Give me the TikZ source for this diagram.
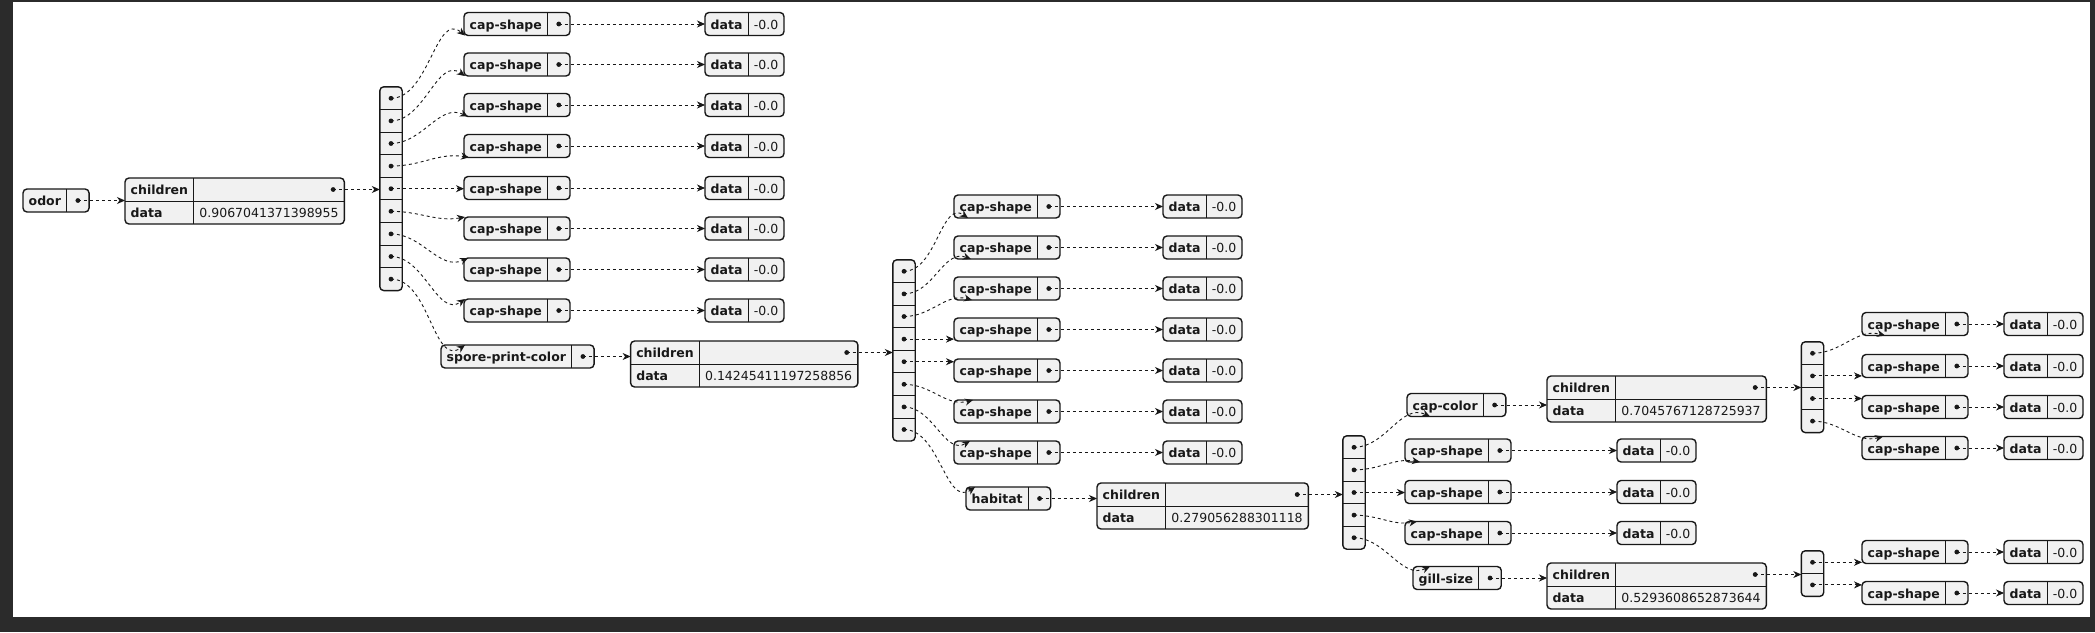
\documentclass[tikz,border=0pt]{standalone}
\usepackage{fontspec}
\setmainfont{DejaVu Sans}
\usetikzlibrary{arrows.meta, backgrounds}

\definecolor{boxfill}{HTML}{F1F1F1}
\definecolor{ink}{HTML}{181818}
\definecolor{darkframe}{HTML}{2B2B2B}

\newcommand{\keybox}[3]{%
  \node[keycell, anchor=west] (#1) at (#2) {#3};
  \node[dotcell, anchor=west] (#1-d) at (#1.east) {};
  \begin{pgfonlayer}{background}
    \draw[frame] (#1.north west) rectangle (#1-d.south east);
  \end{pgfonlayer}
  \draw[sep] (#1.north east) -- (#1.south east);
}
\newcommand{\databox}[3]{%
  \node[keycell, anchor=west] (#1) at (#2) {data};
  \node[valcell, anchor=west] (#1-v) at (#1.east) {#3};
  \begin{pgfonlayer}{background}
    \draw[frame] (#1.north west) rectangle (#1-v.south east);
  \end{pgfonlayer}
  \draw[sep] (#1.north east) -- (#1.south east);
}
\newcommand{\kidsbox}[3]{%
  \node[keycell, anchor=north west] (#1) at (#2) {children};
  \node[keycell, anchor=north west] (#1-k) at (#1.south west) {data};
  \node[valcell, anchor=north west] (#1-v) at (#1.south east) {#3};
  \node[dotcell, anchor=south east] (#1-d) at (#1-v.north east) {};
  \begin{pgfonlayer}{background}
    \draw[frame] (#1.north west) rectangle (#1-v.south east);
  \end{pgfonlayer}
  \draw[sep] (#1.north east) -- (#1-v.south west);
  \draw[sep] (#1.south west) -- (#1-v.north east);
}
\newcommand{\listbox}[4]{%
  \foreach \rowi in {1,...,#4} {
    \pgfmathsetmacro{\rowy}{#3+(\rowi-0.5)*22.6}
    \node[dotcell] (#1-\rowi) at (#2,\rowy) {};
  }
  \begin{pgfonlayer}{background}
    \draw[frame] (#1-1.north west) rectangle (#1-#4.south east);
  \end{pgfonlayer}
  \foreach \rowi in {2,...,#4} \draw[sep] (#1-\rowi.north west) -- (#1-\rowi.north east);
}

\begin{document}
\begin{tikzpicture}[x=1pt, y=-1pt]
    \tikzset{
        keycell/.style = {font=\fontsize{12.5}{15}\selectfont\bfseries, text=ink, inner xsep=5.5pt, inner ysep=0pt, minimum height=22.6pt, text height=12pt, text depth=2pt},
        valcell/.style = {keycell, font=\fontsize{12.5}{15}\selectfont},
        dotcell/.style = {minimum width=22pt, minimum height=22.6pt, inner sep=0pt, path picture={\fill[ink] (path picture bounding box.center) circle (2.4pt);}},
        frame/.style = {draw=ink, fill=boxfill, line width=1.4pt, rounded corners=4pt},
        sep/.style = {draw=ink, line width=0.9pt},
        link/.style = {draw=ink, line width=0.9pt, dash pattern=on 3pt off 3pt, -{Stealth[length=8pt, width=7pt, inset=2.5pt]}}
    }
    \useasboundingbox (0,0) rectangle (2095,632);
    \begin{pgfonlayer}{background}
        \fill[darkframe] (0,0) rectangle (2095,632);
        \fill[white] (13,2) rectangle (2090,617);
    \end{pgfonlayer}

    \keybox{odor}{23,200.5}{odor}
    \kidsbox{kids1}{125,178}{0.9067041371398955}
    \listbox{arr1}{391}{87}{9}
    \foreach \i/\y in {1/24, 2/64.5, 3/105, 4/146, 5/188, 6/228.5, 7/269.5, 8/310.5} {
        \keybox{shape1-\i}{464,\y}{cap-shape}
        \databox{val1-\i}{705,\y}{-0.0}
        \draw[link] (shape1-\i-d.center) -- (val1-\i.west);
    }
    \keybox{spore}{441,356.5}{spore-print-color}
    \kidsbox{kids2}{630.6,341}{0.14245411197258856}
    \listbox{arr2}{904}{260}{8}
    \foreach \i/\y in {1/206.5, 2/247.5, 3/288.5, 4/329.5, 5/370.5, 6/411.5, 7/452.5} {
        \keybox{shape2-\i}{954,\y}{cap-shape}
        \databox{val2-\i}{1163,\y}{-0.0}
        \draw[link] (shape2-\i-d.center) -- (val2-\i.west);
    }
    \keybox{habitat}{966,498.5}{habitat}
    \kidsbox{kids3}{1097,483}{0.279056288301118}
    \listbox{arr3}{1354}{436}{5}
    \keybox{capcolor}{1407,405}{cap-color}
    \foreach \i/\y in {1/450.5, 2/492, 3/533} {
        \keybox{shape3-\i}{1405,\y}{cap-shape}
        \databox{val3-\i}{1617,\y}{-0.0}
        \draw[link] (shape3-\i-d.center) -- (val3-\i.west);
    }
    \keybox{gill}{1413,578}{gill-size}
    \kidsbox{kids4}{1547,376}{0.7045767128725937}
    \kidsbox{kids5}{1547,563}{0.5293608652873644}
    \listbox{arr4}{1812.5}{342}{4}
    \listbox{arr5}{1812.5}{551}{2}
    \foreach \i/\y in {1/324, 2/366, 3/407, 4/448} {
        \keybox{shape4-\i}{1862,\y}{cap-shape}
        \databox{val4-\i}{2004,\y}{-0.0}
        \draw[link] (shape4-\i-d.center) -- (val4-\i.west);
    }
    \foreach \i/\y in {1/552, 2/593} {
        \keybox{shape5-\i}{1862,\y}{cap-shape}
        \databox{val5-\i}{2004,\y}{-0.0}
        \draw[link] (shape5-\i-d.center) -- (val5-\i.west);
    }

    \draw[link] (odor-d.center) -- (odor-d.center -| kids1.west);
    \draw[link] (kids1-d.center) -- (kids1-d.center -| arr1-1.west);
    \draw[link] (spore-d.center) -- (spore-d.center -| kids2.west);
    \draw[link] (kids2-d.center) -- (kids2-d.center -| arr2-1.west);
    \draw[link] (habitat-d.center) -- (habitat-d.center -| kids3.west);
    \draw[link] (kids3-d.center) -- (kids3-d.center -| arr3-1.west);
    \draw[link] (capcolor-d.center) -- (capcolor-d.center -| kids4.west);
    \draw[link] (kids4-d.center) -- (kids4-d.center -| arr4-1.west);
    \draw[link] (gill-d.center) -- (gill-d.center -| kids5.west);
    \draw[link] (kids5-d.center) -- (kids5-d.center -| arr5-1.west);

    \foreach \i/\a/\s in {1/140/1, 2/145/1, 3/155/4, 4/170/5}
        \draw[link] (arr1-\i.center) to[out=0, in=\a] ([xshift=\s pt]shape1-\i.south west);
    \draw[link] (arr1-5.center) -- (arr1-5.center -| shape1-5.west);
    \foreach \i/\a/\s in {6/190/1, 7/205/4, 8/215/1}
        \draw[link] (arr1-\i.center) to[out=0, in=\a] ([xshift=\s pt]shape1-\i.north west);
    \draw[link] (arr1-9.center) to[out=0, in=215] ([xshift=24pt]spore.north west);

    \foreach \i/\a/\s in {1/145/14, 2/160/17, 3/165/18}
        \draw[link] (arr2-\i.center) to[out=0, in=\a] ([xshift=\s pt]shape2-\i.south west);
    \draw[link] (arr2-4.center) -- (arr2-4.center -| shape2-4.west);
    \draw[link] (arr2-5.center) -- (arr2-5.center -| shape2-5.west);
    \foreach \i/\a/\s in {6/195/19, 7/210/16}
        \draw[link] (arr2-\i.center) to[out=0, in=\a] ([xshift=\s pt]shape2-\i.north west);
    \draw[link] (arr2-8.center) to[out=0, in=215] ([xshift=9pt]habitat.north west);

    \draw[link] (arr3-1.center) to[out=0, in=155] ([xshift=23pt]capcolor.south west);
    \draw[link] (arr3-2.center) to[out=0, in=170] ([xshift=15pt]shape3-1.south west);
    \draw[link] (arr3-3.center) -- (arr3-3.center -| shape3-2.west);
    \draw[link] (arr3-4.center) to[out=0, in=190] ([xshift=12pt]shape3-3.north west);
    \draw[link] (arr3-5.center) to[out=0, in=205] ([xshift=17pt]gill.north west);

    \draw[link] (arr4-1.center) to[out=0, in=165] ([xshift=23pt]shape4-1.south west);
    \draw[link] (arr4-2.center) -- (arr4-2.center -| shape4-2.west);
    \draw[link] (arr4-3.center) -- (arr4-3.center -| shape4-3.west);
    \draw[link] (arr4-4.center) to[out=0, in=195] ([xshift=21pt]shape4-4.north west);
    \draw[link] (arr5-1.center) -- (arr5-1.center -| shape5-1.west);
    \draw[link] (arr5-2.center) -- (arr5-2.center -| shape5-2.west);
\end{tikzpicture}
\end{document}
